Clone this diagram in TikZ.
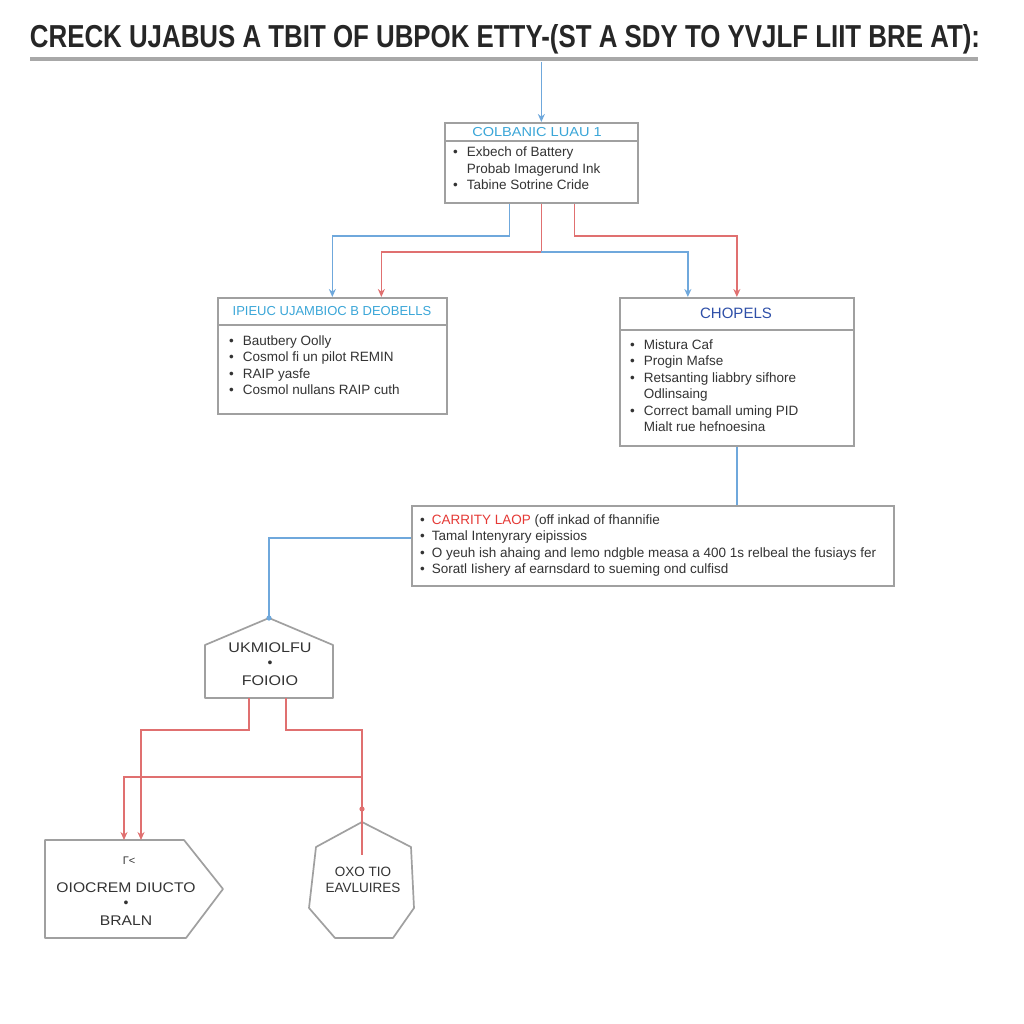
\documentclass[tikz,border=0pt]{standalone}
\usepackage{fontspec}
\setmainfont{Liberation Sans}
\usetikzlibrary{arrows.meta,calc}
\definecolor{boxgray}{HTML}{A0A0A0}
\definecolor{linblue}{HTML}{6FA8DC}
\definecolor{linred}{HTML}{E07070}
\definecolor{hdrblue}{HTML}{3AA6D8}
\definecolor{hdrdark}{HTML}{2E4FA8}
\definecolor{txt}{HTML}{333333}
\definecolor{cred}{HTML}{E53935}
\definecolor{rulegray}{HTML}{A8A8A8}
\begin{document}
\begin{tikzpicture}[x=1pt,y=-1pt,
 box/.style={draw=boxgray, line width=1.7pt, fill=white, inner sep=0pt, anchor=north west},
 sepline/.style={draw=boxgray, line width=1.5pt},
 hdr/.style={font=\fontsize{13pt}{15pt}\selectfont, inner sep=0pt},
 body/.style={font=\fontsize{13.5pt}{16.5pt}\selectfont, text=txt, inner sep=0pt, anchor=base west},
 shp/.style={draw=boxgray, line width=1.7pt, fill=white, line join=round},
 stxt/.style={font=\fontsize{14pt}{16pt}\selectfont, text=txt, inner sep=0pt},
 bl/.style={draw=linblue, line width=1.6pt},
 rl/.style={draw=linred, line width=1.6pt},
 tip/.style={-{Stealth[length=8pt,width=7pt]}},
]
\fill[white] (0,0) rectangle (1024,1024);
\useasboundingbox (0,0) rectangle (1024,1024);

% title
\node[anchor=base, text=black!85, inner sep=0pt] (title) at (505,48)
  {\resizebox{950pt}{23pt}{\bfseries CRECK UJABUS A TBIT OF UBPOK ETTY-(ST A SDY TO YVJLF LIIT BRE AT):}};
\draw[rulegray, line width=3.5pt] (30,59) -- (978,59);

% boxes
\node[box, minimum width=193pt, minimum height=80pt] (top) at (444,122) {};
\node[box, minimum width=229pt, minimum height=116pt] (lbox) at (217,297) {};
\node[box, minimum width=234pt, minimum height=148pt] (rbox) at (619,297) {};
\node[box, minimum width=482pt, minimum height=80pt] (wbox) at (411,505) {};
\coordinate (tt) at (top.north |- 0,62);

\draw[sepline] (top.west |- 0,141) -- (top.east |- 0,141);
\draw[sepline] (lbox.west |- 0,325) -- (lbox.east |- 0,325);
\draw[sepline] (rbox.west |- 0,330) -- (rbox.east |- 0,330);

\node[hdr, text=hdrblue] (toph) at (537,132) {\scalebox{1.12}[1]{COLBANIC LUAU 1}};
\node[hdr, text=hdrblue] (lh) at (332,311) {IPIEUC UJAMBIOC B DEOBELLS};
\node[hdr, text=hdrdark, font=\fontsize{15pt}{17pt}\selectfont] (rh) at (736,313) {CHOPELS};

\node[body] (topb) at (453,157) {\begin{tabular}[t]{@{}l@{\hspace{9pt}}l@{}}
\textbullet & Exbech of Battery\\
 & Probab Imagerund Ink\\
\textbullet & Tabine Sotrine Cride\end{tabular}};

\node[body] (lb) at (229,345) {\begin{tabular}[t]{@{}l@{\hspace{9pt}}l@{}}
\textbullet & Bautbery Oolly\\
\textbullet & Cosmol fi un pilot REMIN\\
\textbullet & RAIP yasfe\\
\textbullet & Cosmol nullans RAIP cuth\end{tabular}};

\node[body] (rb) at (630,349) {\begin{tabular}[t]{@{}l@{\hspace{9pt}}l@{}}
\textbullet & Mistura Caf\\
\textbullet & Progin Mafse\\
\textbullet & Retsanting liabbry sifhore\\
 & Odlinsaing\\
\textbullet & Correct bamall uming PID\\
 & Mialt rue hefnoesina\end{tabular}};

\node[body] (wb) at (420,524) {\begin{tabular}[t]{@{}l@{\hspace{7pt}}l@{}}
\textbullet & \textcolor{cred}{CARRITY LAOP} (off inkad of fhannifie\\
\textbullet & Tamal Intenyrary eipissios\\
\textbullet & O yeuh ish ahaing and lemo ndgble measa a 400 1s relbeal the fusiays fer\\
\textbullet & Soratl Iishery af earnsdard to sueming ond culfisd\end{tabular}};

% lower shapes
\coordinate (pentop) at (269,618);
\draw[shp] (205,645) -- (pentop) -- (333,645) -- (333,698) -- (205,698) -- cycle;
\coordinate (pb1) at (249,698);
\coordinate (pb2) at (286,698);
\node[stxt] (p1) at (270,648) {\scalebox{1.15}[1]{UKMIOLFU}};
\node[stxt] (p2) at (270,664) {\textbullet};
\node[stxt] (p3) at (270,681) {\scalebox{1.15}[1]{FOIOIO}};

\draw[shp] (45,840) -- (184,840) -- (223,889) -- (186,938) -- (45,938) -- cycle;
\coordinate (bl1) at (141,840);
\coordinate (bl0) at (124,840);
\node[stxt, font=\fontsize{11pt}{11pt}\selectfont] (icon) at (129,861) {Γ<};
\node[stxt] (s1) at (126,888) {\scalebox{1.12}[1]{OIOCREM DIUCTO}};
\node[stxt] (s2) at (126,904) {\textbullet};
\node[stxt] (s3) at (126,921) {\scalebox{1.12}[1]{BRALN}};

\coordinate (hepttop) at (362,822);
\draw[shp] (hepttop) -- (411,847) -- (414,908) -- (393,938) -- (335,938) -- (309,908) -- (316,847) -- cycle;
\node[stxt, font=\fontsize{13.5pt}{16pt}\selectfont] (h1) at (363,872) {OXO TIO};
\node[stxt, font=\fontsize{13.5pt}{16pt}\selectfont] (h2) at (363,888) {EAVLUIRES};
\coordinate (hin) at (362,855);
\coordinate (hb) at (362,777);

% connectors
\draw[bl,tip] (tt) -- (top.north);
\draw[bl,tip] ($(top.south)+(-32,0)$) -- ++(0,32) -| (lbox.north);
\draw[rl,tip] (top.south) -- ++(0,48) -| ($(lbox.north)+(49,0)$);
\draw[bl,tip] ($(top.south)+(0,48)$) -| ($(rbox.north)+(-49,0)$);
\draw[rl,tip] ($(top.south)+(33,0)$) -- ++(0,32) -| (rbox.north);
\draw[bl] (rbox.south) -- (rbox.south |- wbox.north);
\draw[bl] ($(wbox.west)+(0,-8)$) -| (pentop);
\fill[linblue] (pentop) circle (2.6pt);

\draw[rl,tip] (pb1) -- ++(0,32) -| (bl1);
\draw[rl] (pb2) -- ++(0,32) -| (hin);
\fill[linred] (362,809) circle (2.6pt);
\draw[rl,tip] (hb) -| (bl0);
\end{tikzpicture}
\end{document}
